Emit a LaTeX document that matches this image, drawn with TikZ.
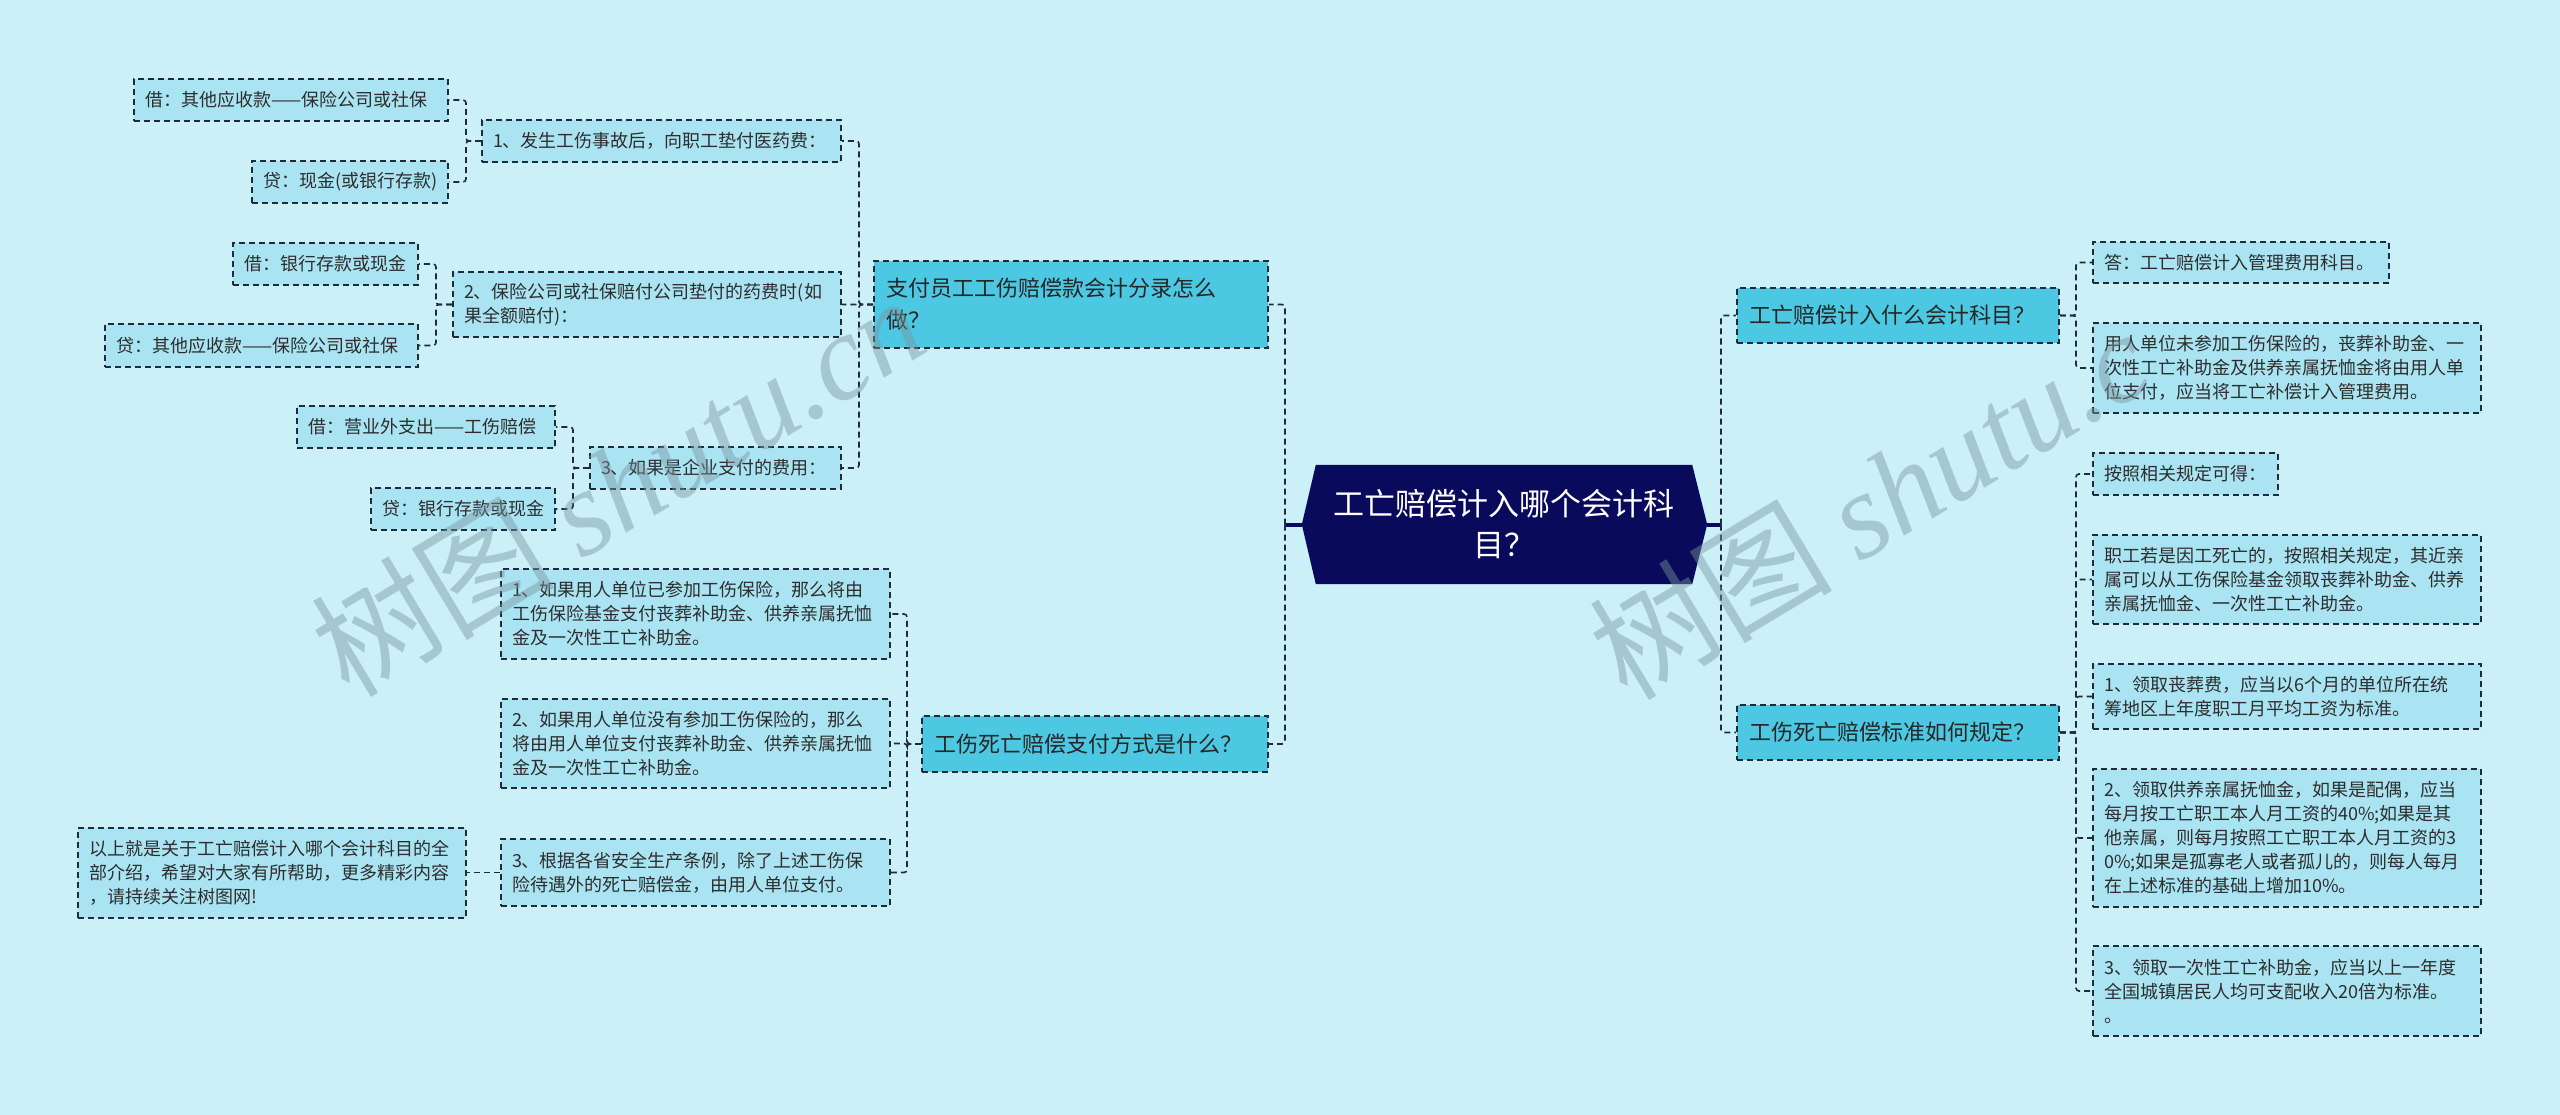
\documentclass[tikz,border=0pt]{standalone}
\usepackage{fontspec}
\setmainfont{Noto Sans CJK SC}
\newfontfamily\wmfont{Liberation Serif}
\usetikzlibrary{backgrounds,calc}
\definecolor{bg}{RGB}{203,240,248}
\definecolor{leaf}{RGB}{170,228,242}
\definecolor{branch}{RGB}{76,200,226}
\definecolor{navy}{RGB}{10,10,92}
\definecolor{ln}{RGB}{31,43,58}
\definecolor{txt}{RGB}{45,45,45}
\definecolor{wm}{RGB}{120,150,158}
\tikzset{
  box/.style={draw=ln, line width=1.6pt, dash pattern=on 6pt off 4pt, inner xsep=11pt, inner ysep=2pt, align=left, anchor=center},
  leafbox/.style={box, fill=leaf, text=txt, font=\fontsize{18}{24}\selectfont},
  branchbox/.style={box, fill=branch, text=black!85, font=\fontsize{22}{32}\selectfont, inner xsep=12pt},
  centerbox/.style={inner sep=0pt, align=center, text=white, font=\fontsize{31}{41}\selectfont},
  conn/.style={draw=ln, line width=1.6pt, dash pattern=on 6pt off 4pt, rounded corners=3pt},
  hub/.style={draw=navy, line width=4pt},
  wmark/.style={text=wm, opacity=0.45, font=\fontsize{122}{122}\selectfont, rotate=31, anchor=base west, inner sep=0pt}
}
\begin{document}
\begin{tikzpicture}[x=1pt,y=-1pt]
\useasboundingbox (0,0) rectangle (2560,1115);
% central
\node[centerbox, text width=350pt, minimum width=376pt, minimum height=119pt] (c) at (1504,524.5) {工亡赔偿计入哪个会计科\\目？};
\begin{scope}[on background layer]
  \fill[bg] (0,0) rectangle (2560,1115);
  \fill[navy] (c.north west) -- (c.north east) -- ($(c.east)+(15,0)$) -- (c.south east) -- (c.south west) -- ($(c.west)+(-14,0)$) -- cycle;
\end{scope}
% first level
\node[branchbox, text width=370pt, minimum height=87pt] (A) at (1071,304.5) {支付员工工伤赔偿款会计分录怎么\\做？};
\node[branchbox, text width=322pt, minimum height=56pt] (B) at (1095,744) {工伤死亡赔偿支付方式是什么？};
\node[branchbox, text width=298pt, minimum height=55pt] (C) at (1898,315.5) {工亡赔偿计入什么会计科目？};
\node[branchbox, text width=298pt, minimum height=55pt] (D) at (1898,732.5) {工伤死亡赔偿标准如何规定？};
% left subtree A
\node[leafbox, text width=337pt, minimum height=42pt] (n1) at (661.5,141) {1、发生工伤事故后，向职工垫付医药费：};
\node[leafbox, text width=366pt, minimum height=65pt] (n2) at (647,304.5) {2、保险公司或社保赔付公司垫付的药费时(如\\果全额赔付)：};
\node[leafbox, text width=229pt, minimum height=42pt] (n3) at (715.5,468) {3、如果是企业支付的费用：};
\node[leafbox, text width=292pt, minimum height=42pt] (j1) at (291,100) {借：其他应收款——保险公司或社保};
\node[leafbox, text width=174pt, minimum height=42pt] (d1) at (350,182) {贷：现金(或银行存款)};
\node[leafbox, text width=163pt, minimum height=42pt] (j2) at (325.5,264) {借：银行存款或现金};
\node[leafbox, text width=291pt, minimum height=43pt] (d2) at (261.5,345.5) {贷：其他应收款——保险公司或社保};
\node[leafbox, text width=236pt, minimum height=42pt] (j3) at (426,427) {借：营业外支出——工伤赔偿};
\node[leafbox, text width=162pt, minimum height=42pt] (d3) at (463,509) {贷：银行存款或现金};
% left subtree B
\node[leafbox, text width=367pt, minimum height=90pt] (b1) at (695.5,614) {1、如果用人单位已参加工伤保险，那么将由\\工伤保险基金支付丧葬补助金、供养亲属抚恤\\金及一次性工亡补助金。};
\node[leafbox, text width=367pt, minimum height=89pt] (b2) at (695.5,743.5) {2、如果用人单位没有参加工伤保险的，那么\\将由用人单位支付丧葬补助金、供养亲属抚恤\\金及一次性工亡补助金。};
\node[leafbox, text width=367pt, minimum height=67pt] (b3) at (695.5,872.5) {3、根据各省安全生产条例，除了上述工伤保\\险待遇外的死亡赔偿金，由用人单位支付。};
\node[leafbox, text width=366pt, minimum height=90pt] (e) at (272,873) {以上就是关于工亡赔偿计入哪个会计科目的全\\部介绍，希望对大家有所帮助，更多精彩内容\\，请持续关注树图网!};
% right subtree C
\node[leafbox, text width=274pt, minimum height=41pt] (c1) at (2241,262.5) {答：工亡赔偿计入管理费用科目。};
\node[leafbox, text width=366pt, minimum height=90pt] (c2) at (2287,368) {用人单位未参加工伤保险的，丧葬补助金、一\\次性工亡补助金及供养亲属抚恤金将由用人单\\位支付，应当将工亡补偿计入管理费用。};
% right subtree D
\node[leafbox, text width=163pt, minimum height=42pt] (d1r) at (2185.5,474) {按照相关规定可得：};
\node[leafbox, text width=366pt, minimum height=89pt] (d2r) at (2287,579.5) {职工若是因工死亡的，按照相关规定，其近亲\\属可以从工伤保险基金领取丧葬补助金、供养\\亲属抚恤金、一次性工亡补助金。};
\node[leafbox, text width=366pt, minimum height=65pt] (d3r) at (2287,696.5) {1、领取丧葬费，应当以6个月的单位所在统\\筹地区上年度职工月平均工资为标准。};
\node[leafbox, text width=366pt, minimum height=138pt] (d4r) at (2287,838) {2、领取供养亲属抚恤金，如果是配偶，应当\\每月按工亡职工本人月工资的40\%;如果是其\\他亲属，则每月按照工亡职工本人月工资的3\\0\%;如果是孤寡老人或者孤儿的，则每人每月\\在上述标准的基础上增加10\%。};
\node[leafbox, text width=366pt, minimum height=90pt] (d5r) at (2287,991) {3、领取一次性工亡补助金，应当以上一年度\\全国城镇居民人均可支配收入20倍为标准。\\。};
% trunk coordinates
\coordinate (tL) at (1285,0);
\coordinate (tR) at (1721,0);
\coordinate (tA) at (859,0);
\coordinate (tB) at (907,0);
\coordinate (tC) at (2076,0);
\coordinate (t1) at (466,0);
\coordinate (t2) at (436,0);
\coordinate (t3) at (573,0);
\coordinate (cw) at ($(c.west)+(-14,0)$);
\coordinate (ce) at ($(c.east)+(15,0)$);
% hub connectors
\draw[hub] (cw) -- (tL |- cw);
\draw[hub] (ce) -- (tR |- ce);
\draw[conn] (tL |- cw) |- (A.east);
\draw[conn] (tL |- cw) |- (B.east);
\draw[conn] (tR |- ce) |- (C.west);
\draw[conn] (tR |- ce) |- (D.west);
% A children
\foreach \n in {n1,n2,n3} \draw[conn] (A.west) -- (tA |- A.west) |- (\n.east);
\draw[conn] (n1.west) -- (t1 |- n1.west) |- (j1.east);
\draw[conn] (n1.west) -- (t1 |- n1.west) |- (d1.east);
\draw[conn] (n2.west) -- (t2 |- n2.west) |- (j2.east);
\draw[conn] (n2.west) -- (t2 |- n2.west) |- (d2.east);
\draw[conn] (n3.west) -- (t3 |- n3.west) |- (j3.east);
\draw[conn] (n3.west) -- (t3 |- n3.west) |- (d3.east);
% B children
\foreach \n in {b1,b2,b3} \draw[conn] (B.west) -- (tB |- B.west) |- (\n.east);
\draw[conn] (b3.west) -- (e.east |- b3.west);
% C, D children
\foreach \n in {c1,c2} \draw[conn] (C.east) -- (tC |- C.east) |- (\n.west);
\foreach \n in {d1r,d2r,d3r,d4r,d5r} \draw[conn] (D.east) -- (tC |- D.east) |- (\n.west);
% watermarks
\node[wmark] (wm1) at (349,700) {树图 {\wmfont\itshape shutu.cn}};
\node[wmark] (wm2) at (1627,703) {树图 {\wmfont\itshape shutu.c}};
\end{tikzpicture}
\end{document}
